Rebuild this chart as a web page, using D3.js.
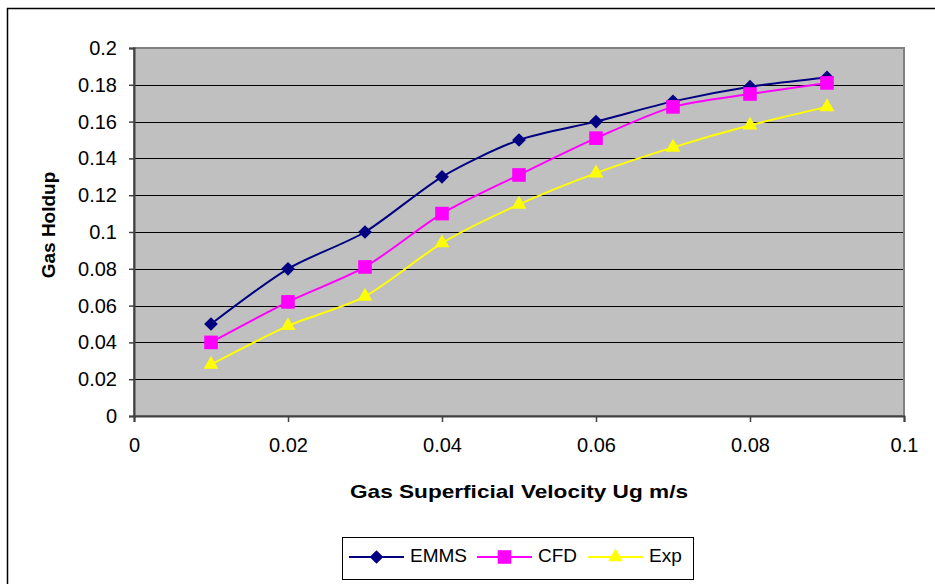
<!DOCTYPE html>
<html>
<head>
<meta charset="utf-8">
<script src="https://cdn.jsdelivr.net/npm/d3@7"></script>
<style>
  html, body { margin: 0; padding: 0; background: #fff; }
  svg { display: block; font-family: "Liberation Sans", Arial, sans-serif; }
</style>
</head>
<body>
<svg id="chart" width="935" height="584"></svg>
<script>
// Gas holdup against superficial gas velocity
const velocity = [0.01, 0.02, 0.03, 0.04, 0.05, 0.06, 0.07, 0.08, 0.09];
const emms = [0.050, 0.080, 0.100, 0.130, 0.150, 0.160, 0.171, 0.179, 0.184];
const cfd  = [0.040, 0.062, 0.081, 0.110, 0.131, 0.151, 0.168, 0.175, 0.181];
const exp  = [0.028, 0.049, 0.065, 0.094, 0.115, 0.132, 0.146, 0.158, 0.168];
const seriesNames = ["EMMS", "CFD", "Exp"];
const xTicks = [0, 0.02, 0.04, 0.06, 0.08, 0.1];
const yTicks = [0, 0.02, 0.04, 0.06, 0.08, 0.1, 0.12, 0.14, 0.16, 0.18, 0.2];

const series = [
  { name: seriesNames[0], values: emms, color: "#000080", symbol: d3.symbolDiamond2, size: 120 },
  { name: seriesNames[1], values: cfd,  color: "#FF00FF", symbol: d3.symbolSquare,   size: 185 },
  { name: seriesNames[2], values: exp,  color: "#FFFF00", symbol: d3.symbolTriangle, size: 95 }
];

const svg = d3.select("#chart");

// outer chart frame
svg.append("rect")
  .attr("x", 7.5).attr("y", 8.5)
  .attr("width", 940).attr("height", 590)
  .attr("fill", "#fff").attr("stroke", "#000").attr("stroke-width", 1.5);

const plot = { left: 134, top: 48, right: 904, bottom: 416 };

const x = d3.scaleLinear().domain([0, 0.1]).range([plot.left, plot.right]);
const y = d3.scaleLinear().domain([0, 0.2]).range([plot.bottom, plot.top]);

// plot area
svg.append("rect")
  .attr("x", plot.left).attr("y", plot.top)
  .attr("width", plot.right - plot.left).attr("height", plot.bottom - plot.top)
  .attr("fill", "#C0C0C0")
  .attr("stroke", "#808080").attr("stroke-width", 2);

// horizontal gridlines
svg.append("g")
  .selectAll("line")
  .data(yTicks.filter(v => v > 0 && v < 0.2))
  .join("line")
  .attr("x1", plot.left).attr("x2", plot.right - 1)
  .attr("y1", d => Math.round(y(d)) + 0.5).attr("y2", d => Math.round(y(d)) + 0.5)
  .attr("stroke", "#000").attr("stroke-width", 1);

// axes
const yAxis = d3.axisLeft(y).tickValues(yTicks).tickFormat(d3.format("~g"))
  .tickSize(5).tickPadding(12);
const xAxis = d3.axisBottom(x).tickValues(xTicks).tickFormat(d3.format("~g"))
  .tickSize(6).tickPadding(16);

const gy = svg.append("g").attr("transform", `translate(${plot.left},0)`).call(yAxis);
const gx = svg.append("g").attr("transform", `translate(0,${plot.bottom})`).call(xAxis);

[gx, gy].forEach(g => {
  g.select(".domain").attr("stroke", "#404040").attr("stroke-width", 2);
  g.selectAll(".tick line").attr("stroke", "#404040").attr("stroke-width", 1.5);
  g.selectAll(".tick text")
    .attr("fill", "#000")
    .style("font-family", "'Liberation Sans', Arial, sans-serif")
    .style("font-size", "20px");
});

// axis titles
svg.append("text")
  .attr("x", (plot.left + plot.right) / 2).attr("y", 498)
  .attr("text-anchor", "middle")
  .attr("textLength", 338).attr("lengthAdjust", "spacingAndGlyphs")
  .style("font-size", "19px").style("font-weight", "bold")
  .text("Gas Superficial Velocity Ug m/s");

svg.append("text")
  .attr("transform", "translate(55,225) rotate(-90)")
  .attr("text-anchor", "middle")
  .style("font-size", "19px").style("font-weight", "bold")
  .text("Gas Holdup");

// smoothed series lines and markers
const line = d3.line()
  .x((d, i) => x(velocity[i]))
  .y(d => y(d))
  .curve(d3.curveCardinal.tension(0.2));

series.forEach(s => {
  svg.append("path")
    .attr("d", line(s.values))
    .attr("fill", "none")
    .attr("stroke", s.color)
    .attr("stroke-width", 2);
});

series.forEach(s => {
  svg.append("g")
    .selectAll("path")
    .data(s.values)
    .join("path")
    .attr("transform", (d, i) => `translate(${x(velocity[i])},${y(d)})`)
    .attr("d", d3.symbol().type(s.symbol).size(s.size))
    .attr("fill", s.color);
});

// legend
const legend = svg.append("g");
legend.append("rect")
  .attr("x", 342.5).attr("y", 537.5)
  .attr("width", 351).attr("height", 42)
  .attr("fill", "#fff").attr("stroke", "#000").attr("stroke-width", 1);

const legendX = [349, 477, 588];
series.forEach((s, i) => {
  const lx = legendX[i], ly = 557;
  legend.append("line")
    .attr("x1", lx).attr("x2", lx + 55)
    .attr("y1", ly).attr("y2", ly)
    .attr("stroke", s.color).attr("stroke-width", 2);
  legend.append("path")
    .attr("transform", `translate(${lx + 27.5},${ly})`)
    .attr("d", d3.symbol().type(s.symbol).size(s.size))
    .attr("fill", s.color);
  legend.append("text")
    .attr("x", lx + 61).attr("y", 561.5)
    .style("font-size", "19px")
    .text(s.name);
});
</script>
</body>
</html>
